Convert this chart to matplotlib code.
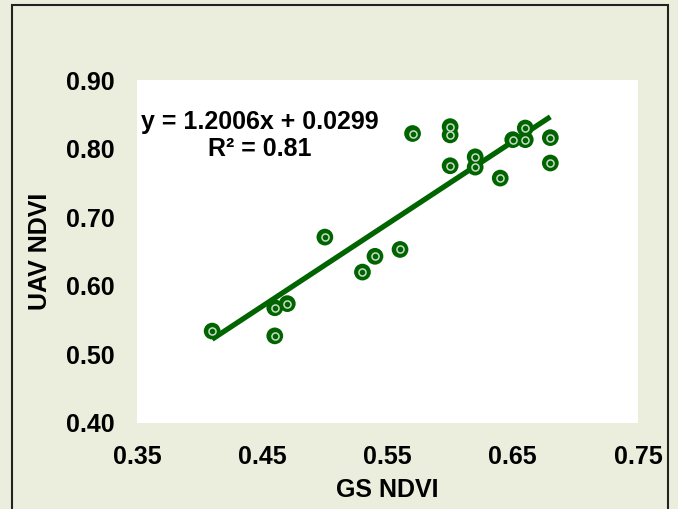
import matplotlib
matplotlib.use("Agg")
import matplotlib.pyplot as plt
from matplotlib.patches import Rectangle
import numpy as np

plt.rcParams['font.family'] = ['Liberation Sans', 'DejaVu Sans']

# GS NDVI vs UAV NDVI readings
gs_ndvi = [0.41, 0.46, 0.47, 0.46, 0.50, 0.53, 0.54, 0.56, 0.57, 0.60,
           0.60, 0.60, 0.62, 0.62, 0.64, 0.65, 0.66, 0.66, 0.68, 0.68]
uav_ndvi = [0.534, 0.568, 0.574, 0.527, 0.671, 0.620, 0.643, 0.653, 0.822, 0.832,
            0.820, 0.775, 0.788, 0.773, 0.757, 0.813, 0.830, 0.813, 0.816, 0.779]

# trend line coefficients as shown on chart
slope = 1.2006
intercept = 0.0299
r_squared = 0.81

x_ticks = [0.35, 0.45, 0.55, 0.65, 0.75]
y_ticks = [0.40, 0.50, 0.60, 0.70, 0.80, 0.90]

green = '#006400'
bg = '#ebeedd'

fig = plt.figure(figsize=(6.78, 5.09), dpi=100)
fig.patch.set_facecolor(bg)
# black frame around the chart (open at the bottom)
fig.patches.append(Rectangle((12 / 678, -0.05), 656 / 678, 1.05 - 5 / 509,
                             transform=fig.transFigure, fill=False,
                             edgecolor='#222222', linewidth=1.5))

ax = fig.add_axes([137 / 678, 1 - 423 / 509, 501 / 678, 343 / 509])
ax.set_facecolor('white')

# trend line
xs = np.array([min(gs_ndvi), max(gs_ndvi)])
ax.plot(xs, slope * xs + intercept, color=green, linewidth=3.8,
        solid_capstyle='butt', zorder=2)

# markers: solid green disc with a small light ring inside
ax.scatter(gs_ndvi, uav_ndvi, s=145, color=green, edgecolors='none', zorder=3)
ax.scatter(gs_ndvi, uav_ndvi, s=26, facecolors=green, edgecolors='#c8dcc8',
           linewidths=1.1, zorder=4)

ax.set_xlim(0.35, 0.75)
ax.set_ylim(0.40, 0.90)
ax.set_xticks(x_ticks)
ax.set_yticks(y_ticks)
ax.set_xticklabels([f'{v:.2f}' for v in x_ticks])
ax.set_yticklabels([f'{v:.2f}' for v in y_ticks])
ax.tick_params(axis='x', length=0, labelsize=18, pad=16)
ax.tick_params(axis='y', length=0, labelsize=18, pad=16)
for lab in ax.get_xticklabels() + ax.get_yticklabels():
    lab.set_fontweight('bold')
for sp in ax.spines.values():
    sp.set_visible(False)

ax.set_xlabel('GS NDVI', fontsize=18, fontweight='bold', labelpad=6)
ax.set_ylabel('UAV NDVI', fontsize=18, fontweight='bold', labelpad=10)

ax.text(0.4484, 0.819, f'y = {slope:.4f}x + {intercept:.4f}\nR² = {r_squared:.2f}',
        ha='center', va='center', fontsize=18, fontweight='bold',
        linespacing=1.12, zorder=5)

fig.savefig('out.png', dpi=100, facecolor=bg)
